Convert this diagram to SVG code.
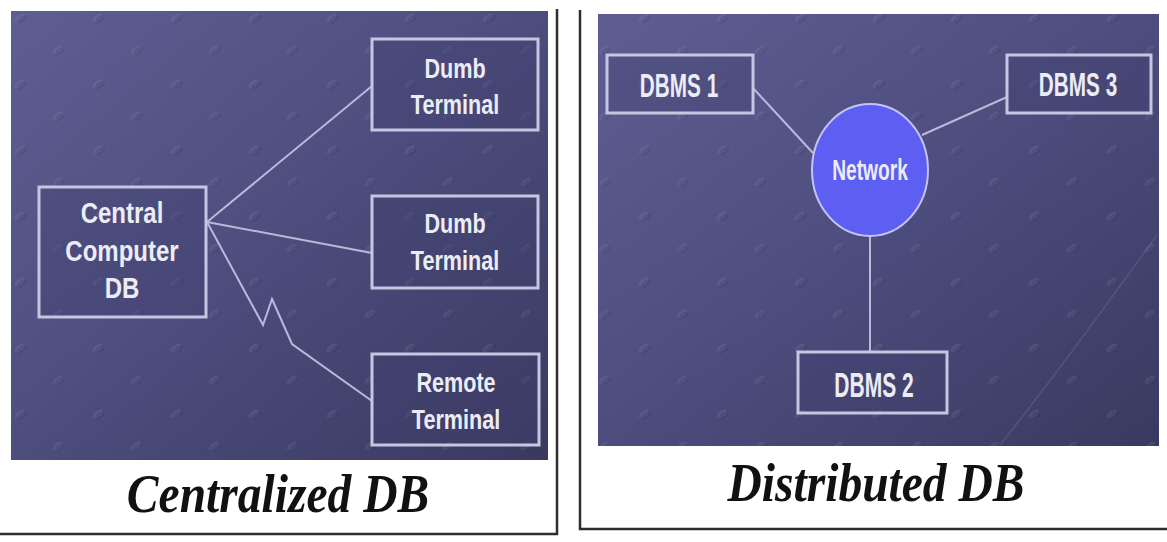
<svg xmlns="http://www.w3.org/2000/svg" width="1167" height="542" viewBox="0 0 1167 542">
  <defs>
    <linearGradient id="slate" x1="0" y1="0" x2="1" y2="1">
      <stop offset="0" stop-color="#5e5e93"/>
      <stop offset="0.55" stop-color="#4b4b7b"/>
      <stop offset="1" stop-color="#393960"/>
    </linearGradient>
    <!-- faint raised speckles of the slide background -->
    <pattern id="speckle" width="78" height="66" patternUnits="userSpaceOnUse">
      <g transform="rotate(-35 20 18)">
        <ellipse cx="20" cy="18" rx="6" ry="3" fill="#9a9ad0" opacity="0.16"/>
        <ellipse cx="21" cy="20" rx="6" ry="3" fill="#20203c" opacity="0.14"/>
      </g>
      <g transform="rotate(-35 58 50)">
        <ellipse cx="58" cy="50" rx="6" ry="3" fill="#9a9ad0" opacity="0.14"/>
        <ellipse cx="59" cy="52" rx="6" ry="3" fill="#20203c" opacity="0.12"/>
      </g>
    </pattern>
    <style>
      .panel { fill: url(#slate); }
      .dots { fill: url(#speckle); }
      .box { fill: #3f3f6c; fill-opacity: 0.35; stroke: #c6c6e2; stroke-width: 3; }
      .link { fill: none; stroke: #b9b9da; stroke-width: 2; stroke-linejoin: miter; }
      .label { font-family: "Liberation Sans", Arial, sans-serif; font-weight: bold; fill: #ececf6; text-anchor: middle; }
      .caption { font-family: "Liberation Serif", "Times New Roman", serif; font-weight: bold; font-style: italic; font-size: 54px; fill: #111111; text-anchor: middle; }
      .frame { fill: none; stroke: #2e2e2e; stroke-width: 2.5; }
    </style>
  </defs>

  <rect width="1167" height="542" fill="#ffffff"/>

  <!-- Panel frames -->
  <polyline class="frame" points="557,9 557,534 0,534"/>
  <polyline class="frame" points="580,10 580,529 1167,529"/>

  <!-- Left: centralized layout -->
  <rect class="panel" x="11" y="11" width="537" height="449"/>
  <rect class="dots" x="11" y="11" width="537" height="449"/>

  <!-- Right: distributed layout -->
  <rect class="panel" x="598" y="14" width="561" height="432"/>
  <rect class="dots" x="598" y="14" width="561" height="432"/>
  <path d="M1157,235 C1110,300 1060,370 1000,445" fill="none" stroke="#8a8ac0" stroke-width="1.5" opacity="0.25"/>

  <g id="connectors">
    <line class="link" x1="207" y1="222" x2="372" y2="86"/>
    <line class="link" x1="207" y1="222" x2="372" y2="253"/>
    <polyline class="link" points="207,222 263,325 272,299 292,344 372,401"/>
    <line class="link" x1="753" y1="88" x2="813" y2="153"/>
    <line class="link" x1="922" y1="135" x2="1007" y2="97"/>
    <line class="link" x1="870" y1="236" x2="870" y2="352"/>
  </g>

  <g id="central">
    <rect class="box" x="39" y="187" width="167" height="130"/>
    <g transform="translate(122 0) scale(0.8 1)">
      <text class="label" font-size="30"><tspan x="0" y="223">Central</tspan><tspan x="0" y="261">Computer</tspan><tspan x="0" y="298">DB</tspan></text>
    </g>
  </g>

  <g id="dumb-terminal-1">
    <rect class="box" x="372" y="39" width="166" height="91"/>
    <g transform="translate(455 0) scale(0.8 1)">
      <text class="label" font-size="27"><tspan x="0" y="78">Dumb</tspan><tspan x="0" y="114">Terminal</tspan></text>
    </g>
  </g>

  <g id="dumb-terminal-2">
    <rect class="box" x="372" y="196" width="166" height="92"/>
    <g transform="translate(455 0) scale(0.8 1)">
      <text class="label" font-size="27"><tspan x="0" y="233">Dumb</tspan><tspan x="0" y="270">Terminal</tspan></text>
    </g>
  </g>

  <g id="remote-terminal">
    <rect class="box" x="372" y="354" width="167" height="91"/>
    <g transform="translate(456 0) scale(0.8 1)">
      <text class="label" font-size="27"><tspan x="0" y="392">Remote</tspan><tspan x="0" y="429">Terminal</tspan></text>
    </g>
  </g>

  <g id="dbms-1">
    <rect class="box" x="607" y="55" width="146" height="58"/>
    <text class="label" font-size="34" transform="translate(679 97) scale(0.61 1)">DBMS 1</text>
  </g>

  <g id="dbms-3">
    <rect class="box" x="1007" y="55" width="144" height="58"/>
    <text class="label" font-size="34" transform="translate(1078 96) scale(0.61 1)">DBMS 3</text>
  </g>

  <g id="network">
    <ellipse cx="870" cy="170" rx="58" ry="66" fill="#5d5ef2" stroke="#c4c4f6" stroke-width="2"/>
    <text class="label" font-size="30" transform="translate(870 180) scale(0.64 1)">Network</text>
  </g>

  <g id="dbms-2">
    <rect class="box" x="798" y="352" width="149" height="61"/>
    <text class="label" font-size="35" transform="translate(874 397) scale(0.6 1)">DBMS 2</text>
  </g>

  <g id="captions">
    <text class="caption" transform="translate(278 512) scale(0.88 1)">Centralized DB</text>
    <text class="caption" transform="translate(876 501) scale(0.88 1)">Distributed DB</text>
  </g>
</svg>
